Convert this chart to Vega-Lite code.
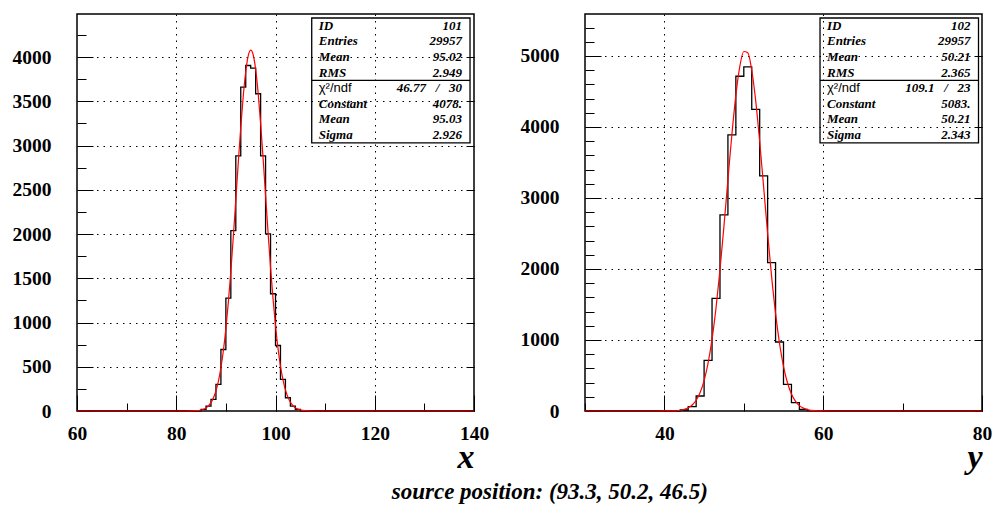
{
  "$schema": "https://vega.github.io/schema/vega-lite/v6.json",
  "background": "white",
  "padding": {"left": 11, "top": 13, "right": 0, "bottom": 0},
  "spacing": 29,
  "title": {"text": "source position: (93.3, 50.2, 46.5)", "orient": "bottom", "anchor": "middle", "font": "Liberation Serif", "fontSize": 23, "fontStyle": "italic", "fontWeight": "bold", "color": "black", "dx": 48, "offset": 6},
  "config": {
    "view": {"stroke": "black", "strokeWidth": 1.5},
    "axis": {"labelFont": "Liberation Serif", "labelFontWeight": "bold", "labelFontSize": 19.5, "labelColor": "black", "tickColor": "black", "tickWidth": 1, "domain": false, "gridColor": "black", "gridDash": [1.5, 5], "gridWidth": 1, "labelFlush": false, "labelOverlap": false, "format": "d"},
    "axisX": {"titleFont": "Liberation Serif", "titleFontSize": 34, "titleFontStyle": "italic", "titleFontWeight": "bold", "titleAnchor": "end", "titleAlign": "right", "titlePadding": -10, "titleColor": "black", "labelPadding": 29},
    "axisY": {"labelPadding": 42}
  },
  "datasets": {
    "histX": [{"x":60,"n":0},{"x":84,"n":3},{"x":85,"n":19},{"x":86,"n":56},{"x":87,"n":131},{"x":88,"n":300},{"x":89,"n":695},{"x":90,"n":1276},{"x":91,"n":2038},{"x":92,"n":2883},{"x":93,"n":3660},{"x":94,"n":3904},{"x":95,"n":3874},{"x":96,"n":3585},{"x":97,"n":2883},{"x":98,"n":2001},{"x":99,"n":1325},{"x":100,"n":740},{"x":101,"n":357},{"x":102,"n":150},{"x":103,"n":56},{"x":104,"n":19},{"x":105,"n":2},{"x":106,"n":0},{"x":140,"n":0}],
    "fitX": [{"x":60,"f":0},{"x":80,"f":0.01},{"x":82,"f":0.2},{"x":83,"f":0.9},{"x":84,"f":3.3},{"x":85,"f":11.5},{"x":85.5,"f":20.3},{"x":86,"f":34.9},{"x":86.5,"f":58.2},{"x":87,"f":94.4},{"x":87.5,"f":148.8},{"x":88,"f":227.6},{"x":88.5,"f":338.1},{"x":89,"f":487.8},{"x":89.5,"f":683.6},{"x":90,"f":930.7},{"x":90.5,"f":1230.1},{"x":91,"f":1579.5},{"x":91.5,"f":1969.8},{"x":92,"f":2385.5},{"x":92.5,"f":2806.2},{"x":93,"f":3205.7},{"x":93.5,"f":3557.0},{"x":94,"f":3833.0},{"x":94.5,"f":4011.6},{"x":95,"f":4077.8},{"x":95.5,"f":4025.7},{"x":96,"f":3859.9},{"x":96.5,"f":3594.5},{"x":97,"f":3250.9},{"x":97.5,"f":2855.7},{"x":98,"f":2436.3},{"x":98.5,"f":2018.6},{"x":99,"f":1624.4},{"x":99.5,"f":1269.6},{"x":100,"f":963.8},{"x":100.5,"f":710.5},{"x":101,"f":508.8},{"x":101.5,"f":353.7},{"x":102,"f":239.0},{"x":102.5,"f":156.7},{"x":103,"f":99.9},{"x":103.5,"f":61.8},{"x":104,"f":37.1},{"x":104.5,"f":21.7},{"x":105,"f":12.3},{"x":106,"f":3.6},{"x":107,"f":0.95},{"x":108,"f":0.2},{"x":110,"f":0.01},{"x":140,"f":0}],
    "statsX": [{"row":1,"label":"ID","value":"101"},{"row":2,"label":"Entries","value":"29957"},{"row":3,"label":"Mean","value":"95.02"},{"row":4,"label":"RMS","value":"2.949"},{"row":5,"label":"χ²/ndf","value":"46.77\u00a0\u00a0\u00a0/\u00a0\u00a0\u00a030"},{"row":6,"label":"Constant","value":"4078."},{"row":7,"label":"Mean","value":"95.03"},{"row":8,"label":"Sigma","value":"2.926"}],
    "histY": [{"x":30,"n":0},{"x":41,"n":3},{"x":42,"n":14},{"x":43,"n":61},{"x":44,"n":211},{"x":45,"n":714},{"x":46,"n":1587},{"x":47,"n":2761},{"x":48,"n":3888},{"x":49,"n":4714},{"x":50,"n":4845},{"x":51,"n":4249},{"x":52,"n":3310},{"x":53,"n":2089},{"x":54,"n":972},{"x":55,"n":376},{"x":56,"n":117},{"x":57,"n":23},{"x":58,"n":6},{"x":59,"n":1},{"x":60,"n":0},{"x":80,"n":0}],
    "fitY": [{"x":30,"f":0},{"x":38,"f":0.01},{"x":40,"f":0.38},{"x":41,"f":2.24},{"x":42,"f":10.96},{"x":42.5,"f":22.6},{"x":43,"f":44.7},{"x":43.5,"f":84.2},{"x":44,"f":151.6},{"x":44.5,"f":260.8},{"x":45,"f":429.0},{"x":45.5,"f":673.9},{"x":46,"f":1011.7},{"x":46.5,"f":1451.0},{"x":47,"f":1988.5},{"x":47.5,"f":2603.8},{"x":48,"f":3257.7},{"x":48.5,"f":3894.5},{"x":49,"f":4448.4},{"x":49.5,"f":4854.9},{"x":50,"f":5062.6},{"x":50.5,"f":5044.2},{"x":51,"f":4802.1},{"x":51.5,"f":4368.1},{"x":52,"f":3796.3},{"x":52.5,"f":3152.8},{"x":53,"f":2501.7},{"x":53.5,"f":1896.7},{"x":54,"f":1373.9},{"x":54.5,"f":950.8},{"x":55,"f":628.8},{"x":55.5,"f":397.4},{"x":56,"f":240.0},{"x":56.5,"f":138.4},{"x":57,"f":76.3},{"x":57.5,"f":40.2},{"x":58,"f":20.2},{"x":59,"f":4.5},{"x":60,"f":0.8},{"x":61,"f":0.1},{"x":63,"f":0.01},{"x":80,"f":0}],
    "statsY": [{"row":1,"label":"ID","value":"102"},{"row":2,"label":"Entries","value":"29957"},{"row":3,"label":"Mean","value":"50.21"},{"row":4,"label":"RMS","value":"2.365"},{"row":5,"label":"χ²/ndf","value":"109.1\u00a0\u00a0\u00a0/\u00a0\u00a0\u00a023"},{"row":6,"label":"Constant","value":"5083."},{"row":7,"label":"Mean","value":"50.21"},{"row":8,"label":"Sigma","value":"2.343"}],
    "box": [{"box":"stats"}]
  },
  "hconcat": [
    {
      "width": 397, "height": 397,
      "resolve": {"scale": {"y": "independent"}, "axis": {"y": "independent"}},
      "layer": [
        {
          "data": {"name": "histX"},
          "mark": {"type": "line", "interpolate": "step-after", "color": "black", "strokeWidth": 1.3},
          "encoding": {
            "x": {"field": "x", "type": "quantitative", "scale": {"domain": [60, 140], "nice": false, "zero": false},
              "axis": {"values": [60,65,70,75,80,85,90,95,100,105,110,115,120,125,130,135,140], "labelExpr": "datum.value % 20 === 0 ? datum.label : ''", "grid": true,
                "gridOpacity": {"condition": {"test": "datum.value % 20 === 0 && datum.value > 60 && datum.value < 140", "value": 1}, "value": 0},
                "tickSize": {"condition": {"test": "datum.value % 20 === 0", "value": -16}, "value": -8}, "title": "x"}},
            "y": {"field": "n", "type": "quantitative", "scale": {"domain": [0, 4486], "nice": false},
              "axis": {"values": [0,250,500,750,1000,1250,1500,1750,2000,2250,2500,2750,3000,3250,3500,3750,4000,4250], "labelExpr": "datum.value % 500 === 0 ? datum.label : ''", "grid": true,
                "gridOpacity": {"condition": {"test": "datum.value % 500 === 0 && datum.value > 0", "value": 1}, "value": 0},
                "tickSize": {"condition": {"test": "datum.value % 500 === 0", "value": -16}, "value": -9}, "title": null}}
          }
        },
        {
          "data": {"name": "fitX"},
          "mark": {"type": "line", "interpolate": "monotone", "color": "#ff0000", "strokeWidth": 1.2},
          "encoding": {
            "x": {"field": "x", "type": "quantitative"},
            "y": {"field": "f", "type": "quantitative", "scale": {"domain": [0, 4486], "nice": false},
              "axis": {"orient": "right", "values": [0,500,1000,1500,2000,2500,3000,3500,4000], "labels": false, "grid": false, "tickSize": -8, "title": null}}
          }
        },
        {
          "layer": [
            {
              "data": {"name": "box"},
              "mark": {"type": "rect", "fill": null, "stroke": "black", "strokeWidth": 1.3},
              "encoding": {
                "x": {"datum": 107.3}, "x2": {"datum": 139.2},
                "y": {"datum": 0.5, "type": "quantitative", "scale": {"domain": [0.244, 25.69], "reverse": true}, "axis": null},
                "y2": {"datum": 8.5}
              }
            },
            {
              "data": {"name": "box"},
              "mark": {"type": "rule", "stroke": "black", "strokeWidth": 1.3},
              "encoding": {
                "x": {"datum": 107.3}, "x2": {"datum": 139.2},
                "y": {"datum": 4.5, "type": "quantitative", "scale": {"domain": [0.244, 25.69], "reverse": true}, "axis": null}
              }
            },
            {
              "data": {"name": "statsX"},
              "transform": [{"filter": "datum.row !== 5"}],
              "mark": {"type": "text", "align": "left", "baseline": "middle", "dx": 7, "font": "Liberation Serif", "fontSize": 13, "fontStyle": "italic", "fontWeight": "bold", "color": "black"},
              "encoding": {
                "x": {"datum": 107.3},
                "y": {"field": "row", "type": "quantitative", "scale": {"domain": [0.244, 25.69], "reverse": true}, "axis": null},
                "text": {"field": "label"}
              }
            },
            {
              "data": {"name": "statsX"},
              "transform": [{"filter": "datum.row === 5"}],
              "mark": {"type": "text", "align": "left", "baseline": "middle", "dx": 7, "font": "Liberation Sans", "fontSize": 13, "color": "black"},
              "encoding": {
                "x": {"datum": 107.3},
                "y": {"field": "row", "type": "quantitative", "scale": {"domain": [0.244, 25.69], "reverse": true}, "axis": null},
                "text": {"field": "label"}
              }
            },
            {
              "data": {"name": "statsX"},
              "mark": {"type": "text", "align": "right", "baseline": "middle", "dx": -8, "font": "Liberation Serif", "fontSize": 13, "fontStyle": "italic", "fontWeight": "bold", "color": "black"},
              "encoding": {
                "x": {"datum": 139.2},
                "y": {"field": "row", "type": "quantitative", "scale": {"domain": [0.244, 25.69], "reverse": true}, "axis": null},
                "text": {"field": "value"}
              }
            }
          ]
        }
      ]
    },
    {
      "width": 397, "height": 397,
      "resolve": {"scale": {"y": "independent"}, "axis": {"y": "independent"}},
      "layer": [
        {
          "data": {"name": "histY"},
          "mark": {"type": "line", "interpolate": "step-after", "color": "black", "strokeWidth": 1.3},
          "encoding": {
            "x": {"field": "x", "type": "quantitative", "scale": {"domain": [30, 80], "nice": false, "zero": false},
              "axis": {"values": [30,35,40,45,50,55,60,65,70,75,80], "labelExpr": "datum.value % 20 === 0 ? datum.label : ''", "grid": true,
                "gridOpacity": {"condition": {"test": "datum.value % 20 === 0 && datum.value > 30 && datum.value < 80", "value": 1}, "value": 0},
                "tickSize": {"condition": {"test": "datum.value % 20 === 0", "value": -16}, "value": -8}, "title": "y"}},
            "y": {"field": "n", "type": "quantitative", "scale": {"domain": [0, 5591], "nice": false},
              "axis": {"values": [0,200,400,600,800,1000,1200,1400,1600,1800,2000,2200,2400,2600,2800,3000,3200,3400,3600,3800,4000,4200,4400,4600,4800,5000,5200,5400], "labelExpr": "datum.value % 1000 === 0 ? datum.label : ''", "grid": true,
                "gridOpacity": {"condition": {"test": "datum.value % 1000 === 0 && datum.value > 0", "value": 1}, "value": 0},
                "tickSize": {"condition": {"test": "datum.value % 1000 === 0", "value": -16}, "value": -9}, "title": null}}
          }
        },
        {
          "data": {"name": "fitY"},
          "mark": {"type": "line", "interpolate": "monotone", "color": "#ff0000", "strokeWidth": 1.2},
          "encoding": {
            "x": {"field": "x", "type": "quantitative"},
            "y": {"field": "f", "type": "quantitative", "scale": {"domain": [0, 5591], "nice": false},
              "axis": {"orient": "right", "values": [0,1000,2000,3000,4000,5000], "labels": false, "grid": false, "tickSize": -8, "title": null}}
          }
        },
        {
          "layer": [
            {
              "data": {"name": "box"},
              "mark": {"type": "rect", "fill": null, "stroke": "black", "strokeWidth": 1.3},
              "encoding": {
                "x": {"datum": 59.6}, "x2": {"datum": 79.56},
                "y": {"datum": 0.5, "type": "quantitative", "scale": {"domain": [0.244, 25.69], "reverse": true}, "axis": null},
                "y2": {"datum": 8.5}
              }
            },
            {
              "data": {"name": "box"},
              "mark": {"type": "rule", "stroke": "black", "strokeWidth": 1.3},
              "encoding": {
                "x": {"datum": 59.6}, "x2": {"datum": 79.56},
                "y": {"datum": 4.5, "type": "quantitative", "scale": {"domain": [0.244, 25.69], "reverse": true}, "axis": null}
              }
            },
            {
              "data": {"name": "statsY"},
              "transform": [{"filter": "datum.row !== 5"}],
              "mark": {"type": "text", "align": "left", "baseline": "middle", "dx": 7, "font": "Liberation Serif", "fontSize": 13, "fontStyle": "italic", "fontWeight": "bold", "color": "black"},
              "encoding": {
                "x": {"datum": 59.6},
                "y": {"field": "row", "type": "quantitative", "scale": {"domain": [0.244, 25.69], "reverse": true}, "axis": null},
                "text": {"field": "label"}
              }
            },
            {
              "data": {"name": "statsY"},
              "transform": [{"filter": "datum.row === 5"}],
              "mark": {"type": "text", "align": "left", "baseline": "middle", "dx": 7, "font": "Liberation Sans", "fontSize": 13, "color": "black"},
              "encoding": {
                "x": {"datum": 59.6},
                "y": {"field": "row", "type": "quantitative", "scale": {"domain": [0.244, 25.69], "reverse": true}, "axis": null},
                "text": {"field": "label"}
              }
            },
            {
              "data": {"name": "statsY"},
              "mark": {"type": "text", "align": "right", "baseline": "middle", "dx": -8, "font": "Liberation Serif", "fontSize": 13, "fontStyle": "italic", "fontWeight": "bold", "color": "black"},
              "encoding": {
                "x": {"datum": 79.56},
                "y": {"field": "row", "type": "quantitative", "scale": {"domain": [0.244, 25.69], "reverse": true}, "axis": null},
                "text": {"field": "value"}
              }
            }
          ]
        }
      ]
    }
  ]
}
